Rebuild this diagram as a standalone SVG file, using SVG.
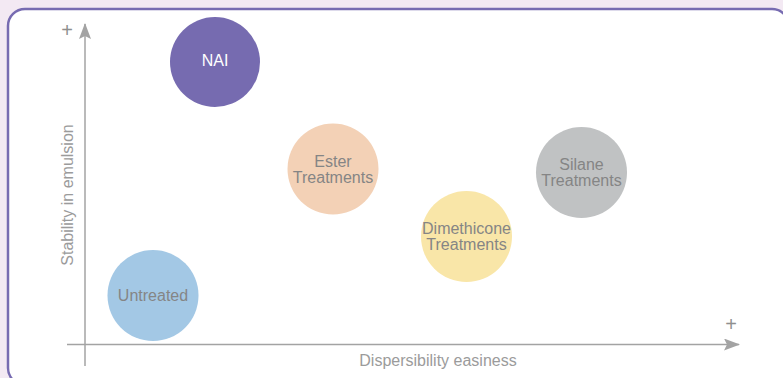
<svg xmlns="http://www.w3.org/2000/svg" width="783" height="378" viewBox="0 0 783 378">
  <style>
    .lbl { font-family: "Liberation Sans", Arial, sans-serif; font-size: 16px; fill: #858585; text-anchor: middle; }
    .axl { font-family: "Liberation Sans", Arial, sans-serif; font-size: 16px; fill: #9b9b9b; text-anchor: middle; }
    .plus { font-family: "Liberation Sans", Arial, sans-serif; font-size: 20px; fill: #8f8f8f; text-anchor: middle; }
    .axis { stroke: #a3a3a3; stroke-width: 1.5; fill: none; }
  </style>
  <defs>
    <marker id="arr" viewBox="0 0 16 12" refX="15" refY="6" markerWidth="16" markerHeight="12" markerUnits="userSpaceOnUse" orient="auto">
      <path d="M0,0 L16,6 L0,12 L3,6 Z" fill="#a3a3a3"/>
    </marker>
  </defs>
  <rect x="0" y="0" width="783" height="378" fill="#f3e9f3"/>
  <rect id="frame" x="8" y="9" width="781" height="376" rx="17" ry="17" fill="#ffffff" stroke="#776bb1" stroke-width="2.5"/>

  <g id="connectors">
    <line class="axis" x1="85" y1="366" x2="85" y2="24" marker-end="url(#arr)"/>
    <line class="axis" x1="67" y1="344.5" x2="739" y2="344.5" marker-end="url(#arr)"/>
  </g>

  <g id="axis-labels">
    <text class="plus" x="67" y="37">+</text>
    <text class="plus" x="731" y="331">+</text>
    <text class="axl" x="438" y="366">Dispersibility easiness</text>
    <text class="axl" transform="translate(73,195) rotate(-90)">Stability in emulsion</text>
  </g>

  <g id="nai">
    <circle cx="215" cy="62" r="45" fill="#766bb0"/>
    <text class="lbl" x="215" y="66" style="fill:#ffffff">NAI</text>
  </g>
  <g id="untreated">
    <circle cx="153" cy="295.5" r="45.5" fill="#a3c8e5"/>
    <text class="lbl" x="153" y="301">Untreated</text>
  </g>
  <g id="ester">
    <circle cx="333" cy="169" r="45.5" fill="#f3d1b6"/>
    <text class="lbl" x="333" y="166.5">Ester</text>
    <text class="lbl" x="333" y="182.5">Treatments</text>
  </g>
  <g id="dimethicone">
    <circle cx="466.5" cy="236.5" r="45.5" fill="#f9e6a8"/>
    <text class="lbl" x="466.5" y="234">Dimethicone</text>
    <text class="lbl" x="466.5" y="250">Treatments</text>
  </g>
  <g id="silane">
    <circle cx="581.5" cy="172.5" r="45.5" fill="#c0c2c3"/>
    <text class="lbl" x="581.5" y="170">Silane</text>
    <text class="lbl" x="581.5" y="186">Treatments</text>
  </g>
</svg>
